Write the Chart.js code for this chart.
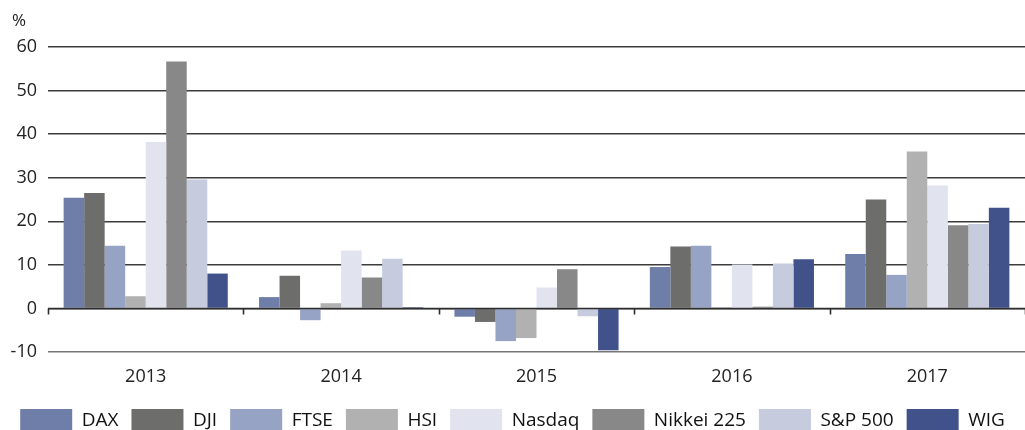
<!DOCTYPE html>
<html>
<head>
<meta charset="utf-8">
<script src="https://cdn.jsdelivr.net/npm/chart.js@4.4.0/dist/chart.umd.min.js"></script>
<style>
  html, body { margin: 0; padding: 0; background: #fff; overflow: hidden; }
</style>
</head>
<body>
<canvas id="grafico" width="1025" height="430"></canvas>
<script>
// dados (variacao anual em %)
const anos = ["2013", "2014", "2015", "2016", "2017"];
const indices = ["DAX", "DJI", "FTSE", "HSI", "Nasdaq", "Nikkei 225", "S&P 500", "WIG"];
const cores = ["#6e7ea9", "#6d6d6b", "#97a3c4", "#b1b1b1", "#e1e4ee", "#888888", "#c6cbde", "#41528b"];

const dax    = [25.4, 2.6, -1.9, 9.5, 12.5];
const dji    = [26.5, 7.5, -3.1, 14.2, 25.0];
const ftse   = [14.4, -2.7, -7.5, 14.4, 7.7];
const hsi    = [2.8, 1.2, -6.8, 0.3, 36.0];
const nasdaq = [38.2, 13.3, 4.8, 10.1, 28.2];
const nikkei = [56.7, 7.1, 9.0, 0.4, 19.1];
const sp500  = [29.6, 11.4, -1.8, 10.3, 19.4];
const wig    = [8.0, 0.3, -9.6, 11.3, 23.1];

const eixoY = { min: -10, max: 60, passo: 10 };

const series = [dax, dji, ftse, hsi, nasdaq, nikkei, sp500, wig];

const fonteNumeros = "'Open Sans', 'Noto Sans', sans-serif";
const fonteLegenda = "'Liberation Sans Narrow', 'Open Sans', sans-serif";

// linha do zero com tracinhos entre as categorias, e o "%" em cima
const linhaZero = {
  id: "linhaZero",
  afterDatasetsDraw(chart) {
    const { ctx, scales: { x, y } } = chart;
    const y0 = y.getPixelForValue(0);
    const passo = (x.right - x.left) / anos.length;
    ctx.save();
    ctx.strokeStyle = "#2e2e2e";
    ctx.lineWidth = 1.6;
    ctx.beginPath();
    ctx.moveTo(x.left, y0);
    ctx.lineTo(x.right, y0);
    for (let i = 0; i <= anos.length; i++) {
      const px = Math.round(x.left + passo * i) + 0.5;
      ctx.moveTo(px, y0);
      ctx.lineTo(px, y0 + 6);
    }
    ctx.stroke();
    ctx.fillStyle = "#222";
    ctx.font = "17px " + fonteNumeros;
    ctx.textAlign = "left";
    ctx.textBaseline = "alphabetic";
    ctx.fillText("%", 12, 26);
    ctx.restore();
  }
};

const data_grafico = {
  labels: anos,
  datasets: indices.map((nome, i) => ({
    label: nome,
    data: series[i],
    backgroundColor: cores[i],
    borderWidth: 0,
    barPercentage: 1.0,
    categoryPercentage: 0.84,
  })),
};

const config_grafico = {
  type: "bar",
  data: data_grafico,
  options: {
    responsive: false,
    animation: false,
    devicePixelRatio: 1,
    layout: {
      padding: { top: 47, right: 0, left: 0, bottom: -13 },
    },
    plugins: {
      legend: {
        position: "bottom",
        labels: {
          boxWidth: 52,
          boxHeight: 24,
          padding: 13,
          color: "#111",
          font: { family: fonteLegenda, size: 19 },
        },
      },
      tooltip: { enabled: false },
    },
    scales: {
      x: {
        grid: { display: false },
        border: { display: false },
        ticks: {
          color: "#222",
          padding: 6,
          font: { family: fonteNumeros, size: 18 },
        },
        afterFit(scale) { scale.height = 44; },
      },
      y: {
        min: eixoY.min,
        max: eixoY.max,
        border: { display: false },
        grid: {
          drawTicks: false,
          lineWidth: 1.4,
          color: (c) => (c.tick && c.tick.value === eixoY.min ? "#777" : "#3c3c3c"),
        },
        ticks: {
          stepSize: eixoY.passo,
          color: "#222",
          padding: 11,
          font: { family: fonteNumeros, size: 18 },
        },
        afterFit(scale) { scale.width = 48; },
      },
    },
  },
  plugins: [linhaZero],
};

const myChart = new Chart(document.getElementById("grafico"), config_grafico);
</script>
</body>
</html>
